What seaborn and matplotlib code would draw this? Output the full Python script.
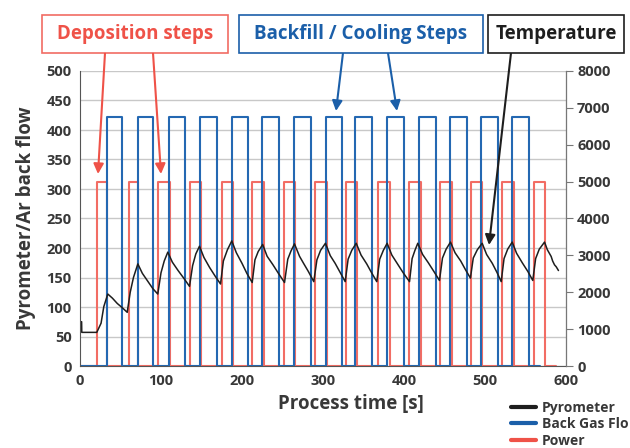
import matplotlib
matplotlib.use("Agg")
import matplotlib.pyplot as plt
import seaborn as sns
from matplotlib.patches import Rectangle
from matplotlib.lines import Line2D

# ---- pulse edges [s] ----
power_on = [21.2, 59.9, 95.7, 135.6, 174.7, 212.6, 251.6, 290.4, 327.8, 367.7,
            405.9, 444.7, 483.0, 521.2, 560.2]
power_off = [33.1, 72.2, 110.5, 149.6, 188.6, 226.9, 265.7, 304.7, 341.7, 382.1,
             420.4, 459.0, 496.5, 535.2, 574.3]
power_level = 312
power_end = 588

gas_on = [33.1, 72.2, 109.6, 148.4, 187.4, 224.9, 263.9, 303.1, 339.8, 379.6,
          418.8, 457.0, 494.8, 533.6]
gas_off = [52.1, 90.7, 130.2, 168.9, 207.2, 245.4, 284.6, 323.2, 360.2, 400.2,
           438.9, 477.5, 515.8, 554.1]
gas_level = 422
gas_end = 568

# ---- pyrometer trace (left axis units) ----
pyro_t = [0, 2, 2.2, 20.7, 26, 29.4, 34.3, 40, 46, 52, 58.3,
          62, 66, 71.4, 77, 84, 90, 96,
          100, 104, 108.4, 114, 121, 128, 135.2,
          139, 143, 147.5, 153, 160, 167, 173.5,
          177, 182, 187.4, 193, 200, 206, 212.6,
          216, 220, 225.5, 231, 238, 245, 252.5,
          256.5, 260.5, 264.8, 271, 276, 282, 288.6,
          292.5, 297, 303, 309, 315, 321, 327.4,
          331, 335.5, 341, 347, 354, 360, 366.4,
          370, 374.5, 379.2, 385, 392, 399, 406.8,
          410, 413.5, 417, 423, 430, 437, 443.8,
          447.5, 452, 457.4, 463, 470, 476, 482,
          485.5, 490.5, 496.5, 502, 509, 515, 520,
          523.5, 528, 533.6, 539, 546, 553, 559,
          562.5, 567, 573.5, 577, 581.7, 583.5, 585.8, 588, 590.7]
pyro_v = [75, 75, 57, 57, 72.5, 100.7, 122, 115, 106, 99, 91,
          125, 150, 173, 157, 143, 131, 122,
          158, 178, 193, 176, 162, 149, 135,
          170, 190, 203, 184, 167, 152, 139,
          178, 197, 212, 192, 174, 157, 141.5,
          180, 194, 206, 186, 172, 157, 141.5,
          181, 195, 207, 186, 174, 160, 143,
          180, 196, 208, 187, 174, 159, 143,
          181, 196, 208, 188, 173, 158, 143,
          181, 196, 208, 188, 173, 158, 143,
          182, 196, 208, 189, 175, 160, 145,
          183, 198, 210, 192, 178, 163, 149,
          183, 197, 208, 189, 174, 158, 143,
          182, 198, 210, 191, 175, 160, 145,
          182, 198, 210, 197, 185.6, 178, 171.5, 168, 161.8]

x_ticks = [0, 100, 200, 300, 400, 500, 600]
y_ticks = [0, 50, 100, 150, 200, 250, 300, 350, 400, 450, 500]
y2_ticks = [0, 1000, 2000, 3000, 4000, 5000, 6000, 7000, 8000]
legend_labels = ["Pyrometer", "Back Gas Flo", "Power"]

RED = "#ef5248"
RED_LINE = "#f26d64"
BLUE = "#1b5fa9"
BLUE_LINE = "#2468b2"
BLACK = "#1e1e1e"
TXT = "#383838"


def pulses(on, off, level, t_end):
    t, v = [0], [0]
    for a, b in zip(on, off):
        t += [a, a, b, b]
        v += [0, level, level, 0]
    t.append(t_end)
    v.append(0)
    return t, v


power_t, power_v = pulses(power_on, power_off, power_level, power_end)
gas_t, gas_v = pulses(gas_on, gas_off, gas_level, gas_end)

sns.set_style("white")
plt.rcParams['font.family'] = ['Open Sans', 'DejaVu Sans']

fig = plt.figure(figsize=(6.3, 4.48), dpi=100)
ax = fig.add_axes([80 / 630, 82 / 448, 486 / 630, 295 / 448])

sns.lineplot(x=power_t, y=power_v, ax=ax, color=RED_LINE, lw=1.5,
             estimator=None, sort=False)
sns.lineplot(x=gas_t, y=gas_v, ax=ax, color=BLUE_LINE, lw=1.5,
             estimator=None, sort=False)
sns.lineplot(x=pyro_t, y=pyro_v, ax=ax, color=BLACK, lw=1.1,
             estimator=None, sort=False)

ax.set_xlim(0, 600)
ax.set_ylim(0, 500)
ax.set_xticks(x_ticks)
ax.set_yticks(y_ticks)
ax.yaxis.grid(True, color="#c8c8c8", lw=1)
ax.set_axisbelow(True)
ax.tick_params(length=0, labelsize=10.5, labelcolor=TXT, pad=6)
for lab in ax.get_xticklabels() + ax.get_yticklabels():
    lab.set_fontweight("bold")
for s in ["left", "bottom"]:
    ax.spines[s].set_color("#555555")
ax.spines["top"].set_visible(False)

ax.set_ylabel("Pyrometer/Ar back flow", fontsize=13.5, fontweight="bold", color=TXT)
ax.yaxis.set_label_coords(-0.09, 0.5)
ax.set_xlabel("Process time [s]", fontsize=13.5, fontweight="bold", color=TXT)
ax.xaxis.set_label_coords((351 - 80) / 486, -0.095)

ax2 = ax.twinx()
ax2.set_ylim(0, 8000)
ax2.set_yticks(y2_ticks)
ax2.tick_params(length=5, color="#777777", labelsize=10.5, labelcolor=TXT, pad=3)
for lab in ax2.get_yticklabels():
    lab.set_fontweight("bold")
ax2.spines["top"].set_visible(False)
ax2.spines["right"].set_color("#777777")
ax2.spines["left"].set_visible(False)
ax2.spines["bottom"].set_visible(False)

# ---- annotation boxes above the plot (figure pixels) ----
boxes = [("Deposition steps", 42, 228, RED),
         ("Backfill / Cooling Steps", 239, 483, BLUE),
         ("Temperature", 488, 624, BLACK)]
for text, x0, x1, col in boxes:
    fig.patches.append(Rectangle((x0, 448 - 53), x1 - x0, 38, transform=None,
                                 fill=True, facecolor="white", edgecolor=col,
                                 lw=1.2, alpha=0.85 if col == RED else 1))
    fig.text((x0 + x1) / 2 / 630, 1 - 34 / 448, text, ha="center", va="center",
             fontsize=13.5, fontweight="bold", color=col)

arrows = [((105, 53), (98, 174), RED),
          ((153, 53), (161, 174), RED),
          ((343, 53), (336, 111), BLUE),
          ((388, 53), (397, 111), BLUE),
          ((511, 53), (489, 245), BLACK)]
for (x0, y0), (x1, y1), col in arrows:
    ax.annotate("", xy=(x1, 448 - y1), xytext=(x0, 448 - y0),
                xycoords="figure pixels", textcoords="figure pixels",
                arrowprops=dict(arrowstyle="-|>", color=col, lw=1.5,
                                mutation_scale=15, shrinkA=0, shrinkB=0))

handles = [Line2D([], [], color=BLACK, lw=3),
           Line2D([], [], color=BLUE, lw=3),
           Line2D([], [], color=RED, lw=3)]
leg = fig.legend(handles, legend_labels,
                 loc="upper left", bbox_to_anchor=(505 / 630, 1 - 395 / 448),
                 frameon=False, fontsize=10, handlelength=1.8,
                 handletextpad=0.45, labelspacing=0.2, borderaxespad=0)
for t in leg.get_texts():
    t.set_fontweight("bold")
    t.set_color(TXT)

fig.savefig("out.png", dpi=100)
